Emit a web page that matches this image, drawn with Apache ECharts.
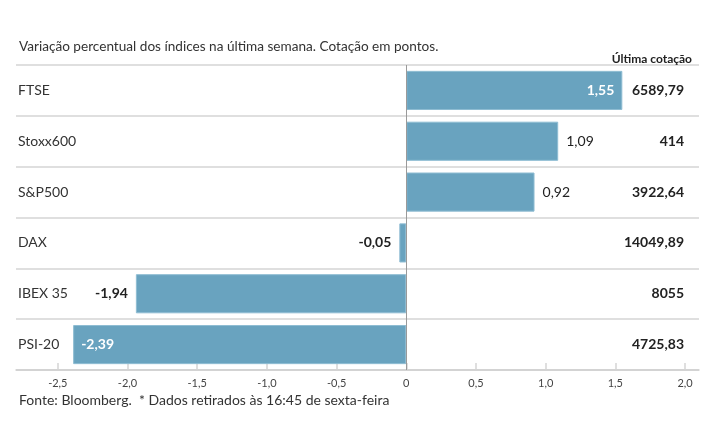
<!DOCTYPE html>
<html>
<head>
<meta charset="utf-8">
<script src="https://cdn.jsdelivr.net/npm/echarts@6/dist/echarts.min.js"></script>
<style>
html,body{margin:0;padding:0;background:#fff;}
#chart{width:715px;height:445px;}
</style>
</head>
<body>
<div id="chart"></div>
<script>
const categories = ['FTSE', 'Stoxx600', 'S&P500', 'DAX', 'IBEX 35', 'PSI-20'];
const variation = [1.55, 1.09, 0.92, -0.05, -1.94, -2.39];
const lastQuote = ['6589,79', '414', '3922,64', '14049,89', '8055', '4725,83'];
const tickValues = [-2.5, -2.0, -1.5, -1.0, -0.5, 0, 0.5, 1.0, 1.5, 2.0];
const titleText = 'Variação percentual dos índices na última semana. Cotação em pontos.';
const quoteHeader = 'Última cotação';
const footerText = 'Fonte: Bloomberg.  * Dados retirados às 16:45 de sexta-feira';

const FONT = 'Lato, "Noto Sans", sans-serif';
const fmt = v => v.toFixed(2).replace('.', ',');
const fmtTick = v => v === 0 ? '0' : v.toFixed(1).replace('.', ',');

// label placement: inside for longest bars, outside otherwise
const insideIdx = [0, 5];
const barData = variation.map((v, i) => {
  const inside = insideIdx.includes(i);
  const neg = v < 0;
  return {
    value: v,
    label: {
      show: true,
      position: inside ? (neg ? 'insideLeft' : 'insideRight') : (neg ? 'left' : 'right'),
      distance: 8,
      color: inside ? '#ffffff' : '#222',
      fontWeight: (inside || neg) ? 'bold' : 'normal',
      fontSize: 14,
      fontFamily: FONT,
      formatter: p => fmt(p.value)
    }
  };
});

const chart = echarts.init(document.getElementById('chart'));
chart.setOption({
  animation: false,
  textStyle: { fontFamily: FONT },
  title: [
    { text: titleText, left: 14, top: 35, textStyle: { fontSize: 13.6, fontWeight: 'normal', color: '#333', fontFamily: FONT } },
    { text: quoteHeader, right: 18, top: 48, textStyle: { fontSize: 12, fontWeight: 'bold', color: '#222', fontFamily: FONT } },
    { text: footerText, left: 14, top: 388, textStyle: { fontSize: 14, fontWeight: 'normal', color: '#333', fontFamily: FONT } }
  ],
  grid: { left: 16, right: 16, top: 65, bottom: 75, containLabel: false },
  xAxis: {
    type: 'value',
    min: -2.8, max: 2.1,
    axisLine: { show: true, lineStyle: { color: '#cfcfcf', width: 1.5 } },
    axisTick: { show: true, inside: true, length: 7, customValues: tickValues, lineStyle: { color: '#d5d5d5', width: 1.5 } },
    axisLabel: { customValues: tickValues, formatter: fmtTick, color: '#444', fontSize: 11, margin: 8, fontFamily: FONT },
    splitLine: { show: false }
  },
  yAxis: [
    {
      type: 'category',
      data: categories,
      inverse: true,
      position: 'left',
      axisLine: { show: false },
      axisTick: { show: false },
      axisLabel: { inside: true, margin: 2, color: '#333', fontSize: 14, fontFamily: FONT },
      splitLine: { show: true, lineStyle: { color: '#d5d5d5', width: 1.5 } }
    },
    {
      type: 'category',
      data: lastQuote,
      inverse: true,
      position: 'right',
      axisLine: { show: false },
      axisTick: { show: false },
      axisLabel: { inside: true, margin: 15, color: '#222', fontSize: 14, fontWeight: 'bold', fontFamily: FONT },
      splitLine: { show: false }
    }
  ],
  series: [{
    type: 'bar',
    yAxisIndex: 0,
    data: barData,
    barWidth: '77%',
    itemStyle: { color: '#69a3bf', borderColor: '#8fbdd3', borderWidth: 1 },
    markLine: {
      silent: true,
      symbol: 'none',
      label: { show: false },
      lineStyle: { color: '#9a9a9a', width: 1, type: 'solid' },
      data: [{ xAxis: 0 }]
    }
  }]
});
</script>
</body>
</html>
